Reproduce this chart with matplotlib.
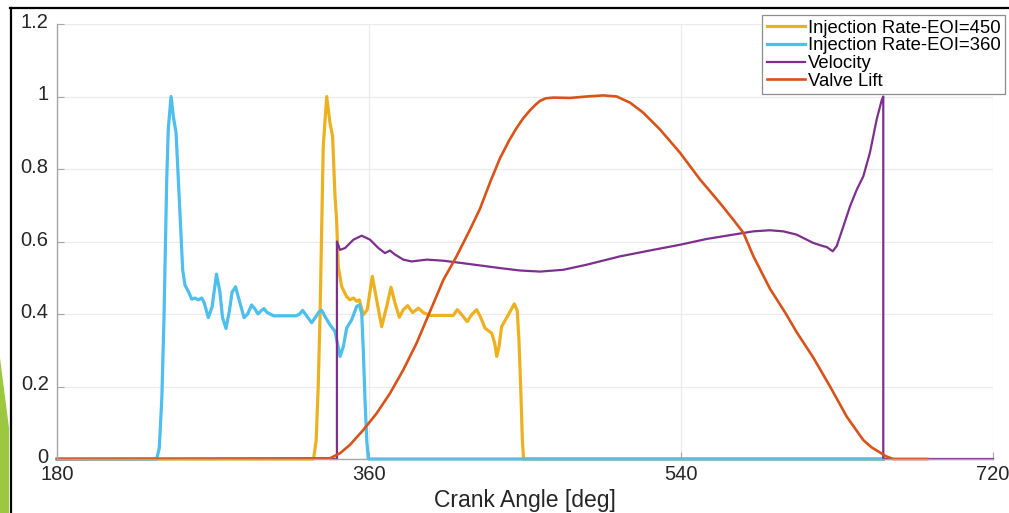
import matplotlib
matplotlib.use("Agg")
import matplotlib.pyplot as plt
from matplotlib.lines import Line2D
from matplotlib.patches import Polygon
from matplotlib.transforms import ScaledTranslation

plt.rcParams['font.family'] = ['Liberation Sans', 'DejaVu Sans']

# ---------------- data ----------------
labels = ["Injection Rate-EOI=450", "Injection Rate-EOI=360", "Velocity", "Valve Lift"]
colors = ["#EDB120", "#4DBEEE", "#7E2F8E", "#D95319"]

eoi450_x = [180, 328, 329.5, 330.7, 331.7, 333.6, 335.6, 337.5, 339, 340.4, 341.3, 342.3, 344.2,
            347.1, 349, 351, 352.9, 354.4, 356.7, 359, 361.9, 364.4, 367.3, 370.2, 372.7, 375,
            377.5, 379.8, 382.3, 385.2, 388.5, 391.3, 395.2, 408.6, 410.9, 413.5, 416.7, 419.2,
            422.1, 424.5, 426.9, 430.8, 432.5, 433.7, 435, 436.5, 440.4, 443.8, 445.5, 446.5,
            447.5, 448.5, 449.2, 656.7]
eoi450_y = [0, 0, 0.05, 0.2, 0.384, 0.862, 1.0, 0.927, 0.89, 0.724, 0.66, 0.531, 0.476,
            0.448, 0.439, 0.444, 0.435, 0.439, 0.398, 0.412, 0.504, 0.439, 0.365, 0.421, 0.474, 0.43,
            0.391, 0.412, 0.423, 0.404, 0.416, 0.404, 0.396, 0.396, 0.412, 0.398, 0.379, 0.398,
            0.412, 0.39, 0.361, 0.347, 0.32, 0.283, 0.31, 0.365, 0.398, 0.428, 0.41, 0.33,
            0.2, 0.05, 0, 0]

eoi360_x = [180, 237.5, 239, 240.5, 241.7, 243.3, 244.2, 245.8, 247.1, 248.7, 250, 251.4, 252.5,
            253.8, 255.8, 257.7, 259.6, 261.5, 263.5, 265, 267.3, 269.5, 272, 274, 275.5, 277.5,
            279.5, 281, 283, 285, 287.9, 290, 292.3, 294, 296, 298, 299.4, 301, 302.9, 305, 318,
            320, 321.7, 324, 326.9, 329, 331, 332.7, 335, 337.5, 340.4, 343.3, 345.2, 347.1, 350,
            352.9, 354.4, 355.8, 356.7, 357.7, 358.7, 359.6, 656.7]
eoi360_y = [0, 0, 0.03, 0.17, 0.384, 0.77, 0.91, 1.0, 0.945, 0.9, 0.77, 0.633, 0.522,
            0.48, 0.462, 0.441, 0.444, 0.439, 0.444, 0.43, 0.39, 0.42, 0.51, 0.46, 0.39, 0.36,
            0.41, 0.46, 0.475, 0.44, 0.39, 0.40, 0.425, 0.415, 0.40, 0.41, 0.415, 0.405, 0.40, 0.395, 0.395,
            0.40, 0.41, 0.395, 0.376, 0.39, 0.405, 0.41, 0.39, 0.37, 0.352, 0.283, 0.31, 0.361, 0.384,
            0.421, 0.425, 0.402, 0.301, 0.163, 0.052, 0, 0]

velocity_x = [338, 341.5, 341.5, 343.3, 346.2, 351, 355.8, 360.6, 365.4, 369.2, 372.1, 375, 379.8,
              384.6, 393.3, 402.9, 414.4, 424, 435, 447.1, 458.7, 472.1, 485.6, 504.8, 524, 539.4,
              554.8, 570.2, 581.7, 591.3, 599, 606.7, 616.3, 622.1, 624, 627.5, 629.8, 633.7,
              637.5, 641.4, 645.2, 649, 652.9, 655.8, 656.7, 656.7, 720]
velocity_y = [0, 0, 0.6, 0.577, 0.582, 0.605, 0.616, 0.605, 0.582, 0.568, 0.575, 0.564, 0.55,
              0.545, 0.55, 0.547, 0.54, 0.534, 0.527, 0.52, 0.517, 0.522, 0.536, 0.559, 0.577, 0.591,
              0.607, 0.619, 0.628, 0.631, 0.628, 0.619, 0.596, 0.587, 0.585, 0.573, 0.587, 0.642,
              0.697, 0.743, 0.78, 0.845, 0.937, 0.99, 1.0, 0, 0]

lift_x = [180, 337.5, 343.3, 349, 356.7, 364.4, 372.1, 379.8, 387.5, 395.2, 402.9, 410.6, 418.3,
          424, 430, 435.6, 441, 445, 449, 452.9, 456, 458.7, 462, 466.3, 476, 485.6, 495.2, 502.9,
          510.6, 518.3, 527.9, 539.4, 551, 562.5, 570.2, 576, 581.7, 591.3, 600.6, 606.7, 616.3,
          626, 635.6, 645.2, 650, 654.8, 658.5, 662.5, 682]
lift_y = [0, 0.002, 0.016, 0.039, 0.08, 0.126, 0.181, 0.246, 0.32, 0.407, 0.494, 0.56, 0.633,
          0.69, 0.765, 0.83, 0.88, 0.912, 0.94, 0.962, 0.977, 0.988, 0.995, 0.997, 0.996, 1.0,
          1.003, 1.0, 0.983, 0.955, 0.909, 0.845, 0.771, 0.706, 0.66, 0.624, 0.56, 0.47, 0.40,
          0.35, 0.28, 0.2, 0.117, 0.052, 0.032, 0.018, 0.007, 0, 0]

xticks = [180, 360, 540, 720]
yticks = [0, 0.2, 0.4, 0.6, 0.8, 1, 1.2]
ytick_labels = ["0", "0.2", "0.4", "0.6", "0.8", "1", "1.2"]
xlabel = "Crank Angle [deg]"

# ---------------- figure ----------------
W, H = 1009, 513
fig = plt.figure(figsize=(W / 100, H / 100), dpi=100)
fig.patch.set_facecolor("white")
ax = fig.add_axes([57 / W, 54 / H, 936 / W, 435 / H])

series = [(eoi450_x, eoi450_y, 2.3), (eoi360_x, eoi360_y, 2.3),
          (velocity_x, velocity_y, 1.6), (lift_x, lift_y, 1.9)]
for (xs, ys, lw), lab, col in zip(series, labels, colors):
    ax.plot(xs, ys, color=col, lw=lw, label=lab, clip_on=False,
            solid_joinstyle='round')

ax.set_xlim(180, 720)
ax.set_ylim(0, 1.2)
ax.set_xticks(xticks)
ax.set_xticklabels([str(t) for t in xticks])
ax.set_yticks(yticks)
ax.set_yticklabels(ytick_labels)
ax.grid(True, color="#ebebeb", lw=0.9)
ax.set_axisbelow(True)
for s in ["top", "right"]:
    ax.spines[s].set_visible(False)
for s in ["left", "bottom"]:
    ax.spines[s].set_color("#a6a6a6")
    ax.spines[s].set_linewidth(1.0)
ax.tick_params(direction="in", length=5, color="#a6a6a6", labelcolor="#262626",
               labelsize=14.5)
ax.tick_params(axis="y", pad=6)
ax.tick_params(axis="x", pad=4)
# MATLAB places y tick labels slightly above their ticks
for lbl in ax.get_yticklabels():
    lbl.set_transform(lbl.get_transform() + ScaledTranslation(0, 3.5 / 100, fig.dpi_scale_trans))
ax.set_xlabel(xlabel, fontsize=16.5, color="#262626", labelpad=4)

leg = ax.legend(loc="upper left", bbox_to_anchor=(762 / W, 1 - 15 / H),
                bbox_transform=fig.transFigure, fontsize=13.3, frameon=True,
                fancybox=False, framealpha=1, edgecolor="#8c8c8c",
                handlelength=2.1, handletextpad=0.12, labelspacing=0.04,
                borderpad=0.25, borderaxespad=0)
leg.get_frame().set_linewidth(0.9)

# slide decorations (frame and green accent)
fig.add_artist(Line2D([10 / W, 1], [1 - 8 / H, 1 - 8 / H], color="black", lw=1.6,
                      transform=fig.transFigure))
fig.add_artist(Line2D([10.5 / W, 10.5 / W], [0, 1 - 8 / H], color="black", lw=1.6,
                      transform=fig.transFigure))
fig.add_artist(Polygon([(0, 1 - 358 / H), (9 / W, 1 - 428 / H), (9 / W, 0), (0, 0)],
                       closed=True, facecolor="#9BC83F", edgecolor="none",
                       transform=fig.transFigure))

fig.savefig("out.png", dpi=100)
